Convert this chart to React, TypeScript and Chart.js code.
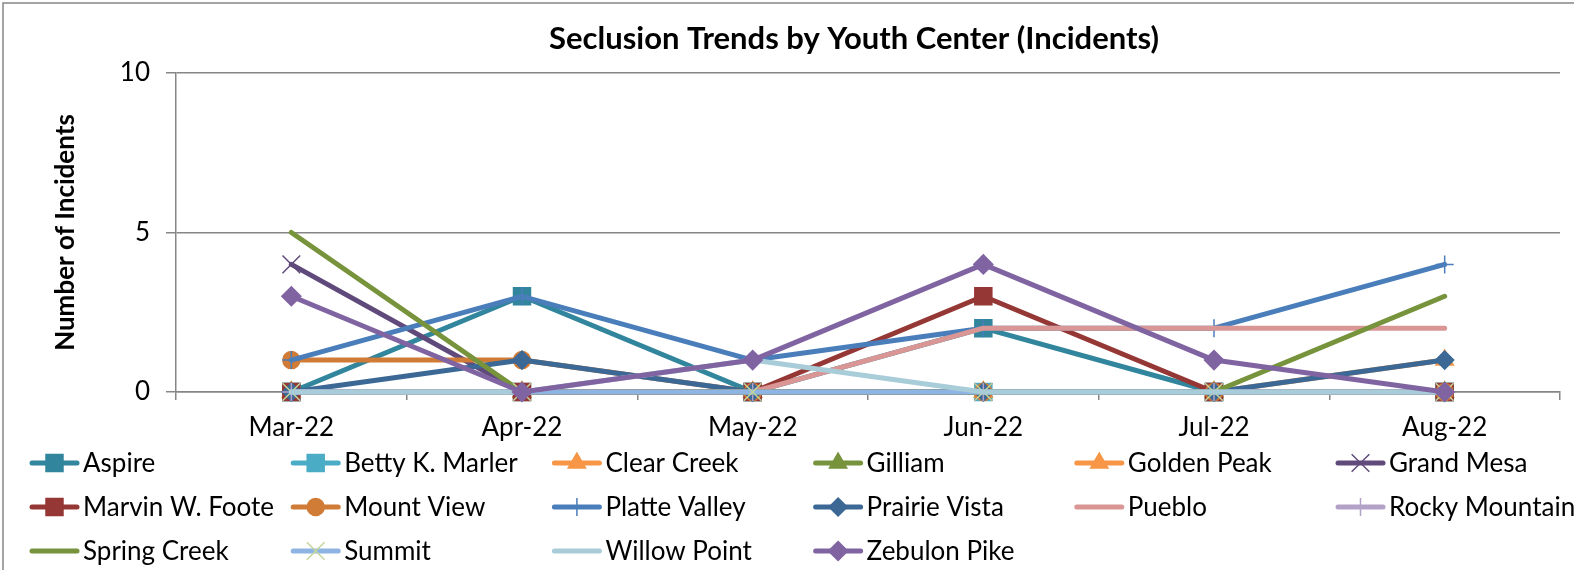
import React, { useEffect, useRef } from 'react';
import { Chart, registerables } from 'chart.js';

Chart.register(...registerables);

const months = ['Mar-22', 'Apr-22', 'May-22', 'Jun-22', 'Jul-22', 'Aug-22'];

const aspire = [0, 3, 0, 2, 0, 0];
const bettyKMarler = [0, 0, 0, 0, 0, 0];
const clearCreek = [0, 0, 0, 0, 0, 0];
const gilliam = [0, 0, 0, 0, 0, 0];
const goldenPeak = [0, 0, 0, 0, 0, 1];
const grandMesa = [4, 0, 0, 0, 0, 0];
const marvinWFoote = [0, 0, 0, 3, 0, 0];
const mountView = [1, 1, 0, 0, 0, 0];
const platteValley = [1, 3, 1, 2, 2, 4];
const prairieVista = [0, 1, 0, 0, 0, 1];
const pueblo = [0, 0, 0, 2, 2, 2];
const rockyMountain = [0, 0, 0, 0, 0, 0];
const springCreek = [5, 0, 0, 0, 0, 3];
const summit = [0, 0, 0, 0, 0, 0];
const willowPoint = [0, 0, 1, 0, 0, 0];
const zebulonPike = [3, 0, 1, 4, 1, 0];

const yTicks = [0, 5, 10];

const TITLE = 'Seclusion Trends by Youth Center (Incidents)';
const Y_TITLE = 'Number of Incidents';
const FONT = 'Lato';

type SeriesDef = {
  label: string;
  data: number[];
  color: string;
  marker: string | false;
  markerFill?: string;
  markerStroke?: string;
  radius?: number;
};

const series: SeriesDef[] = [
  { label: 'Aspire', data: aspire, color: '#31859C', marker: 'rect', radius: 12 },
  { label: 'Betty K. Marler', data: bettyKMarler, color: '#4BACC6', marker: 'rect', radius: 12 },
  { label: 'Clear Creek', data: clearCreek, color: '#F79646', marker: 'triangle', radius: 10 },
  { label: 'Gilliam', data: gilliam, color: '#77933C', marker: 'triangle', radius: 10 },
  { label: 'Golden Peak', data: goldenPeak, color: '#F79646', marker: 'triangle', radius: 10 },
  { label: 'Grand Mesa', data: grandMesa, color: '#604A7B', marker: 'crossRot', radius: 12.5 },
  { label: 'Marvin W. Foote', data: marvinWFoote, color: '#953735', marker: 'rect', radius: 12 },
  { label: 'Mount View', data: mountView, color: '#D07B36', marker: 'circle', radius: 8.5 },
  { label: 'Platte Valley', data: platteValley, color: '#4A7EBB', marker: 'cross', radius: 9 },
  { label: 'Prairie Vista', data: prairieVista, color: '#3C6896', marker: 'rectRot', radius: 9 },
  { label: 'Pueblo', data: pueblo, color: '#D99694', marker: false },
  { label: 'Rocky Mountain', data: rockyMountain, color: '#B3A2C7', marker: 'cross', radius: 9 },
  { label: 'Spring Creek', data: springCreek, color: '#77933C', marker: false },
  { label: 'Summit', data: summit, color: '#8EB4E3', marker: 'crossRot', markerStroke: '#C3D69B', radius: 12.5 },
  { label: 'Willow Point', data: willowPoint, color: '#A9CCD9', marker: false },
  { label: 'Zebulon Pike', data: zebulonPike, color: '#8064A2', marker: 'rectRot', radius: 9.5 },
];

function drawMarker(ctx: CanvasRenderingContext2D, style: string, x: number, y: number, r: number, fill: string, stroke: string) {
  ctx.save();
  ctx.fillStyle = fill;
  ctx.strokeStyle = stroke;
  ctx.lineWidth = 1.5;
  ctx.beginPath();
  if (style === 'rect') {
    const s = r * Math.SQRT1_2;
    ctx.rect(x - s, y - s, 2 * s, 2 * s);
    ctx.fill();
    ctx.stroke();
  } else if (style === 'rectRot') {
    ctx.moveTo(x, y - r);
    ctx.lineTo(x + r, y);
    ctx.lineTo(x, y + r);
    ctx.lineTo(x - r, y);
    ctx.closePath();
    ctx.fill();
    ctx.stroke();
  } else if (style === 'circle') {
    ctx.arc(x, y, r, 0, Math.PI * 2);
    ctx.fill();
    ctx.stroke();
  } else if (style === 'triangle') {
    const a = (2 * Math.PI) / 3;
    ctx.moveTo(x, y - r);
    ctx.lineTo(x + Math.sin(a) * r, y - Math.cos(a) * r);
    ctx.lineTo(x + Math.sin(2 * a) * r, y - Math.cos(2 * a) * r);
    ctx.closePath();
    ctx.fill();
    ctx.stroke();
  } else if (style === 'cross') {
    ctx.moveTo(x, y - r);
    ctx.lineTo(x, y + r);
    ctx.moveTo(x - r, y);
    ctx.lineTo(x + r, y);
    ctx.stroke();
  } else if (style === 'crossRot') {
    const d = r * Math.SQRT1_2;
    ctx.moveTo(x - d, y - d);
    ctx.lineTo(x + d, y + d);
    ctx.moveTo(x + d, y - d);
    ctx.lineTo(x - d, y + d);
    ctx.stroke();
  }
  ctx.restore();
}

const decorPlugin = {
  id: 'decor',
  beforeDraw(chart: any) {
    const ctx: CanvasRenderingContext2D = chart.ctx;
    ctx.save();
    ctx.fillStyle = '#ffffff';
    ctx.fillRect(0, 0, chart.width, chart.height);
    ctx.strokeStyle = '#868686';
    ctx.lineWidth = 1.5;
    ctx.beginPath();
    ctx.moveTo(3, chart.height + 10);
    ctx.lineTo(3, 3);
    ctx.lineTo(chart.width + 10, 3);
    ctx.stroke();
    ctx.restore();
  },
  afterDraw(chart: any) {
    const ctx: CanvasRenderingContext2D = chart.ctx;
    ctx.save();
    // title
    ctx.fillStyle = '#000000';
    ctx.font = `bold 31px ${FONT}`;
    ctx.textAlign = 'center';
    ctx.textBaseline = 'alphabetic';
    ctx.fillText(TITLE, 854, 49);

    // legend
    ctx.font = `26px ${FONT}`;
    ctx.textAlign = 'left';
    ctx.textBaseline = 'middle';
    const ds = chart.data.datasets;
    ds.forEach((d: any, i: number) => {
      const col = i % 6;
      const row = Math.floor(i / 6);
      const x0 = 30 + col * 261.2;
      const y = 463 + row * 44;
      ctx.save();
      ctx.strokeStyle = d.borderColor;
      ctx.lineWidth = 5;
      ctx.lineCap = 'round';
      ctx.beginPath();
      ctx.moveTo(x0 + 2, y);
      ctx.lineTo(x0 + 47, y);
      ctx.stroke();
      ctx.restore();
      if (d.pointStyle && d.pointRadius > 0) {
        drawMarker(ctx, d.pointStyle, x0 + 24.5, y, d.pointRadius, d.pointBackgroundColor, d.pointBorderColor);
      }
      ctx.fillStyle = '#000000';
      ctx.fillText(d.label, x0 + 53, y + 1);
    });
    ctx.restore();
  },
};

export default function App() {
  const ref = useRef<HTMLCanvasElement | null>(null);

  useEffect(() => {
    if (!ref.current) return;
    const n = series.length;
    const chart = new Chart(ref.current, {
      type: 'line',
      data: {
        labels: months,
        datasets: series.map((s, i) => ({
          label: s.label,
          data: s.data,
          borderColor: s.color,
          backgroundColor: s.color,
          borderWidth: 5,
          borderCapStyle: 'round' as const,
          borderJoinStyle: 'round' as const,
          tension: 0,
          fill: false,
          clip: false as any,
          pointStyle: (s.marker || 'circle') as any,
          pointRadius: s.marker ? s.radius : 0,
          pointHoverRadius: s.marker ? s.radius : 0,
          pointBackgroundColor: s.markerFill || s.color,
          pointBorderColor: s.markerStroke || s.color,
          pointBorderWidth: 1.5,
          order: n - i,
        })),
      },
      options: {
        animation: false,
        responsive: false,
        devicePixelRatio: 1,
        events: [],
        layout: { padding: { top: 73, right: 12, left: 0, bottom: 0 } },
        plugins: {
          legend: { display: false },
          title: { display: false },
          tooltip: { enabled: false },
        },
        scales: {
          x: {
            type: 'category',
            offset: true,
            grid: {
              display: true,
              drawOnChartArea: false,
              drawTicks: true,
              tickLength: 8,
              offset: true,
              color: '#868686',
              lineWidth: 1.5,
            },
            border: { display: true, color: '#868686', width: 1.5 },
            ticks: {
              color: '#000000',
              font: { family: FONT, size: 26 },
              padding: 12,
              maxRotation: 0,
              autoSkip: false,
            },
            afterFit: (s: any) => {
              s.height = 178;
            },
          },
          y: {
            min: 0,
            max: 10,
            afterBuildTicks: (s: any) => {
              s.ticks = yTicks.map((v) => ({ value: v }));
            },
            grid: {
              color: '#868686',
              lineWidth: 1.5,
              drawTicks: true,
              tickLength: 10,
            },
            border: { display: true, color: '#868686', width: 1.5 },
            ticks: {
              color: '#000000',
              font: { family: FONT, size: 26 },
              padding: 16,
            },
            title: {
              display: true,
              text: Y_TITLE,
              color: '#000000',
              font: { family: FONT, size: 26, weight: 'bold' },
              padding: { top: 50, bottom: 0 },
            },
            afterFit: (s: any) => {
              s.width = 176;
            },
          },
        },
      },
      plugins: [decorPlugin],
    });
    return () => chart.destroy();
  }, []);

  return (
    <div style={{ position: 'fixed', left: 0, top: 0, width: 1574, height: 570, background: '#fff' }}>
      <canvas ref={ref} width={1574} height={570} style={{ display: 'block', width: 1574, height: 570 }} />
    </div>
  );
}
